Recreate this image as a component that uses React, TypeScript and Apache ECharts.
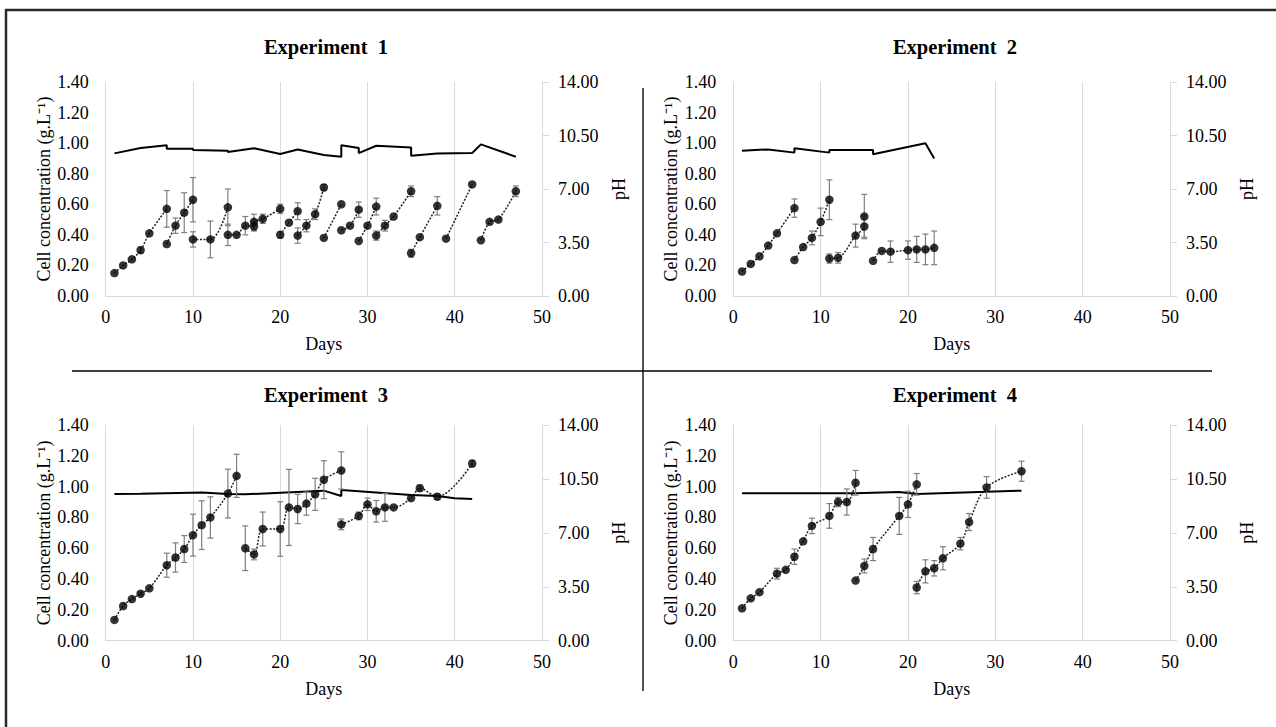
import React, { useEffect, useRef } from "react";
import * as echarts from "echarts";

// ---- Data: [day, cell concentration g/L, error] grouped per batch ----
const exp1Batches: number[][][] = [
  [[1, 0.15, 0], [2, 0.2, 0], [3, 0.24, 0], [4, 0.3, 0.02], [5, 0.41, 0], [7, 0.57, 0.12]],
  [[7, 0.34, 0], [8, 0.46, 0.05], [9, 0.545, 0.13], [10, 0.63, 0.145]],
  [[10, 0.37, 0.05], [12, 0.37, 0.12], [14, 0.58, 0.12]],
  [[14, 0.4, 0.07], [15, 0.4, 0], [16, 0.46, 0.06], [17, 0.455, 0.03], [17, 0.485, 0.05], [18, 0.505, 0.03], [20, 0.57, 0.03]],
  [[20, 0.4, 0.02], [21, 0.48, 0], [22, 0.555, 0.055]],
  [[22, 0.395, 0.05], [23, 0.46, 0.04], [24, 0.535, 0.035], [25, 0.71, 0.02]],
  [[25, 0.38, 0], [27, 0.6, 0]],
  [[27, 0.43, 0], [28, 0.46, 0], [29, 0.565, 0.05]],
  [[29, 0.36, 0], [30, 0.46, 0], [31, 0.585, 0.055]],
  [[31, 0.395, 0.03], [32, 0.46, 0.035], [33, 0.52, 0], [35, 0.685, 0.035]],
  [[35, 0.28, 0.025], [36, 0.385, 0], [38, 0.59, 0.06]],
  [[39, 0.375, 0], [42, 0.73, 0]],
  [[43, 0.365, 0], [44, 0.485, 0], [45, 0.5, 0], [47, 0.685, 0.035]],
];
const exp2Batches: number[][][] = [
  [[1, 0.16, 0], [2, 0.21, 0], [3, 0.26, 0], [4, 0.33, 0], [5, 0.41, 0], [7, 0.575, 0.06]],
  [[7, 0.235, 0], [8, 0.32, 0], [9, 0.38, 0.045], [10, 0.485, 0.09], [11, 0.63, 0.13]],
  [[11, 0.245, 0.03], [12, 0.25, 0.035], [14, 0.395, 0.075], [15, 0.455, 0.07], [15, 0.52, 0.145]],
  [[16, 0.23, 0], [17, 0.295, 0], [18, 0.29, 0.07], [20, 0.3, 0.06], [21, 0.305, 0.085], [22, 0.305, 0.1], [23, 0.315, 0.11]],
];
const exp3Batches: number[][][] = [
  [[1, 0.135, 0], [2, 0.225, 0], [3, 0.27, 0], [4, 0.305, 0.01], [5, 0.34, 0], [7, 0.49, 0.078], [8, 0.54, 0.095], [9, 0.595, 0.087], [10, 0.685, 0.136], [11, 0.75, 0.158], [12, 0.8, 0.134], [14, 0.955, 0.158], [15, 1.07, 0.14]],
  [[16, 0.6, 0.145], [17, 0.56, 0.035], [18, 0.725, 0.11], [20, 0.725, 0.177], [21, 0.865, 0.247], [22, 0.855, 0.095], [23, 0.89, 0.075], [24, 0.95, 0.104], [25, 1.045, 0.123], [27, 1.105, 0.121]],
  [[27, 0.755, 0.035], [29, 0.81, 0.025], [30, 0.885, 0.04], [31, 0.84, 0.07], [32, 0.865, 0.09], [33, 0.865, 0], [35, 0.925, 0], [36, 0.99, 0.02], [38, 0.935, 0.02], [42, 1.15, 0.02]],
];
const exp4Batches: number[][][] = [
  [[1, 0.21, 0], [2, 0.275, 0], [3, 0.315, 0], [5, 0.435, 0.035], [6, 0.46, 0], [7, 0.545, 0.05], [8, 0.645, 0], [9, 0.745, 0.05], [11, 0.81, 0.08], [12, 0.9, 0.03], [13, 0.9, 0.085], [14, 1.025, 0.08]],
  [[14, 0.39, 0], [15, 0.485, 0.045], [16, 0.595, 0.075], [19, 0.81, 0.12], [20, 0.885, 0.085], [21, 1.015, 0.07]],
  [[21, 0.345, 0.04], [22, 0.45, 0.075], [23, 0.47, 0.05], [24, 0.535, 0.075], [26, 0.63, 0.04], [27, 0.77, 0.055], [29, 0.995, 0.07], [33, 1.1, 0.065]],
];

// ---- pH: [day, pH] ----
const exp1Ph = [[1, 9.33], [4, 9.68], [7, 9.86], [7, 9.64], [10, 9.64], [10, 9.55], [14, 9.51], [14, 9.42], [17, 9.66], [20, 9.29], [22, 9.59], [25, 9.22], [27, 9.11], [27, 9.86], [29, 9.68], [29, 9.35], [31, 9.83], [35, 9.72], [35, 9.18], [38, 9.33], [42, 9.35], [43, 9.92], [47, 9.11]];
const exp2Ph = [[1, 9.51], [4, 9.59], [7, 9.38], [7, 9.66], [11, 9.38], [11, 9.55], [16, 9.55], [16, 9.27], [22, 9.99], [23, 9.0]];
const exp3Ph = [[1, 9.52], [4, 9.53], [11, 9.62], [14, 9.52], [16, 9.5], [25, 9.74], [27, 9.39], [27, 9.78], [35, 9.46], [38, 9.39], [40, 9.25], [42, 9.2]];
const exp4Ph = [[1, 9.57], [14, 9.57], [19, 9.65], [21, 9.52], [29, 9.66], [33, 9.74]];

const titles = ["Experiment  1", "Experiment  2", "Experiment  3", "Experiment  4"];
const xName = "Days";
const leftName = "Cell concentration (g.L⁻¹)";
const rightName = "pH";

const FONT = "'Liberation Serif', 'Times New Roman', serif";
const AXIS_GRAY = "#d9d9d9";

export default function App() {
  const ref = useRef<HTMLDivElement>(null);
  useEffect(() => {
    if (!ref.current) return;
    const chart = echarts.init(ref.current, undefined, { renderer: "svg" });
    const grids = [
      { left: 105.7, top: 82, width: 436.3, height: 214 },
      { left: 733.3, top: 82, width: 436.7, height: 214 },
      { left: 105.7, top: 425, width: 436.3, height: 215.7 },
      { left: 733.3, top: 425, width: 436.7, height: 215.7 },
    ];
    const panels = [
      { batches: exp1Batches, ph: exp1Ph },
      { batches: exp2Batches, ph: exp2Ph },
      { batches: exp3Batches, ph: exp3Ph },
      { batches: exp4Batches, ph: exp4Ph },
    ];
    const labelStyle = { fontFamily: FONT, fontSize: 18, color: "#000" };
    const xAxis: any[] = [];
    const yAxis: any[] = [];
    const series: any[] = [];
    panels.forEach((p, i) => {
      xAxis.push({
        type: "value", gridIndex: i, min: 0, max: 50, interval: 10,
        axisLine: { show: true, lineStyle: { color: AXIS_GRAY, width: 1 } },
        axisTick: { show: false },
        splitLine: { show: true, lineStyle: { color: AXIS_GRAY, width: 1 } },
        axisLabel: { ...labelStyle, margin: 12, showMinLabel: true, showMaxLabel: true },
        name: xName, nameLocation: "middle", nameGap: 39,
        nameTextStyle: { ...labelStyle },
      });
      yAxis.push({
        type: "value", gridIndex: i, min: 0, max: 1.4, interval: 0.2, position: "left",
        axisLine: { show: true, lineStyle: { color: AXIS_GRAY, width: 1 } },
        axisTick: { show: false },
        splitLine: { show: false },
        axisLabel: { ...labelStyle, margin: 17, formatter: (v: number) => v.toFixed(2), showMinLabel: true, showMaxLabel: true },
        name: leftName, nameLocation: "middle", nameGap: 53, nameRotate: 90,
        nameTextStyle: { ...labelStyle },
      });
      yAxis.push({
        type: "value", gridIndex: i, min: 0, max: 14, interval: 3.5, position: "right",
        axisLine: { show: true, lineStyle: { color: AXIS_GRAY, width: 1 } },
        axisTick: { show: true, length: 7, lineStyle: { color: AXIS_GRAY } },
        splitLine: { show: false },
        axisLabel: { ...labelStyle, margin: 16, formatter: (v: number) => v.toFixed(2), showMinLabel: true, showMaxLabel: true },
        name: rightName, nameLocation: "middle", nameGap: 68, nameRotate: 90,
        nameTextStyle: { ...labelStyle },
      });
      const leftIdx = i * 2;
      const rightIdx = i * 2 + 1;
      // pH line
      series.push({
        type: "line", xAxisIndex: i, yAxisIndex: rightIdx, data: p.ph,
        symbol: "none", lineStyle: { color: "#000", width: 2 }, z: 3,
      });
      // dotted batch curves
      p.batches.forEach((b) => {
        series.push({
          type: "line", xAxisIndex: i, yAxisIndex: leftIdx,
          data: b.map((d) => [d[0], d[1]]), smooth: 0.35,
          symbol: "none", lineStyle: { color: "#222", width: 1.5, type: [2, 1.5] }, z: 2,
        });
      });
      const all = p.batches.flat();
      // error bars
      series.push({
        type: "custom", xAxisIndex: i, yAxisIndex: leftIdx,
        data: all.filter((d) => d[2] > 0),
        encode: { x: 0, y: 1 },
        z: 4,
        renderItem: (_params: any, api: any) => {
          const x = api.value(0), y = api.value(1), e = api.value(2);
          const top = api.coord([x, y + e]);
          const bot = api.coord([x, y - e]);
          const w = 3;
          const st = { stroke: "#7f7f7f", lineWidth: 1.2 };
          return {
            type: "group",
            children: [
              { type: "line", shape: { x1: top[0], y1: top[1], x2: bot[0], y2: bot[1] }, style: st },
              { type: "line", shape: { x1: top[0] - w, y1: top[1], x2: top[0] + w, y2: top[1] }, style: st },
              { type: "line", shape: { x1: bot[0] - w, y1: bot[1], x2: bot[0] + w, y2: bot[1] }, style: st },
            ],
          };
        },
      });
      // points
      series.push({
        type: "scatter", xAxisIndex: i, yAxisIndex: leftIdx,
        data: all.map((d) => [d[0], d[1]]),
        symbol: "circle", symbolSize: 8.5, itemStyle: { color: "#000" }, z: 5,
      });
    });

    const titlePos = [[326, 47], [955, 47], [326, 395], [955, 395]];
    const graphic: any[] = titlePos.map((pos, i) => ({
      type: "text", x: pos[0], y: pos[1],
      style: { text: titles[i], fontFamily: FONT, fontSize: 20.5, fontWeight: "bold", fill: "#000", align: "center", verticalAlign: "middle" },
    }));
    graphic.push(
      { type: "line", shape: { x1: 643, y1: 88, x2: 643, y2: 691 }, style: { stroke: "#555", lineWidth: 2 } },
      { type: "line", shape: { x1: 72, y1: 371, x2: 1212, y2: 371 }, style: { stroke: "#000", lineWidth: 1.6 } },
      { type: "line", shape: { x1: 5, y1: 10, x2: 1276, y2: 10 }, style: { stroke: "#2a2a2a", lineWidth: 2.5 } },
      { type: "line", shape: { x1: 6, y1: 9, x2: 6, y2: 727 }, style: { stroke: "#2a2a2a", lineWidth: 2.5 } },
    );

    chart.setOption({
      animation: false,
      backgroundColor: "#fff",
      grid: grids,
      xAxis, yAxis, series, graphic,
    });
    return () => chart.dispose();
  }, []);
  return <div ref={ref} style={{ position: "fixed", left: 0, top: 0, width: 1276, height: 727, background: "#fff" }} />;
}
